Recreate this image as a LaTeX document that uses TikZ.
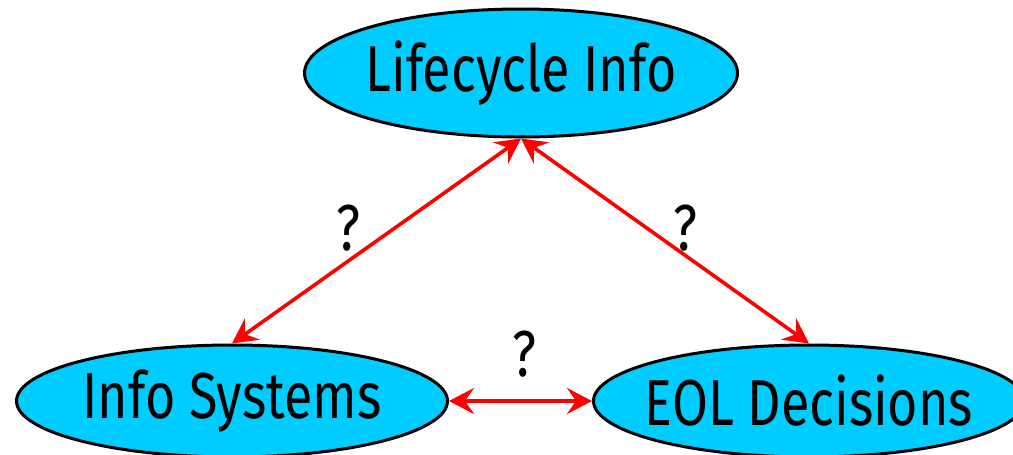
\documentclass[tikz,border=0pt]{standalone}
\usepackage{fontspec}
\setmainfont[FakeStretch=0.8]{Fira Sans}
\usetikzlibrary{shapes.geometric,arrows.meta}
\definecolor{nodefill}{RGB}{0,204,255}
\definecolor{linkred}{RGB}{255,0,0}
\tikzset{
  topic/.style={ellipse, draw=black, line width=3pt, fill=nodefill,
    inner sep=0pt, label={[font=\fontsize{65}{70}\selectfont, inner sep=0pt]center:#1}},
  link/.style={draw=linkred, line width=3.6pt,
    {Stealth[length=25pt,width=26pt,inset=9pt]}-{Stealth[length=25pt,width=26pt,inset=9pt]}},
  qmark/.style={font=\fontsize{65}{70}\selectfont, inner sep=0pt}
}
\begin{document}
\begin{tikzpicture}[x=1pt,y=-1pt]
  \useasboundingbox (0,0) rectangle (1013,455);
  \clip (0,0) rectangle (1013,455);
  \node[topic={Lifecycle Info}, minimum width=433pt, minimum height=128pt] (life) at (521,73) {};
  \node[topic={Info Systems}, minimum width=431pt, minimum height=112pt] (sys) at (232,401) {};
  \node[topic={EOL Decisions}, minimum width=431pt, minimum height=112pt] (eol) at (809,401) {};
  \draw[link] (sys.north) -- (life.south);
  \draw[link] (life.south) -- (eol.north);
  \draw[link] (sys.east) -- (eol.west);
  \node[qmark] (q1) at (348,228) {?};
  \node[qmark] (q2) at (685,228) {?};
  \node[qmark] (q3) at (524,354) {?};
\end{tikzpicture}
\end{document}
